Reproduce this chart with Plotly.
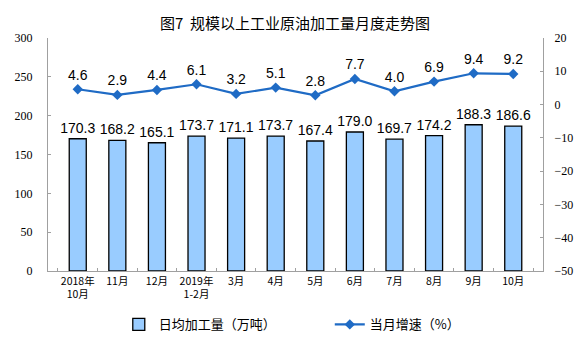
import plotly.graph_objects as go

categories = ["2018年<br>10月", "11月", "12月", "2019年<br>1-2月", "3月", "4月",
              "5月", "6月", "7月", "8月", "9月", "10月"]
daily_output = [170.3, 168.2, 165.1, 173.7, 171.1, 173.7, 167.4, 179.0, 169.7, 174.2, 188.3, 186.6]
growth = [4.6, 2.9, 4.4, 6.1, 3.2, 5.1, 2.8, 7.7, 4.0, 6.9, 9.4, 9.2]
left_ticks = [0, 50, 100, 150, 200, 250, 300]
right_ticks = [-50, -40, -30, -20, -10, 0, 10, 20]

num_font = "Liberation Sans"
cjk_font = "Noto Sans CJK SC"
serif_font = "Liberation Serif, serif"

fig = go.Figure()
fig.add_trace(go.Bar(
    x=categories, y=daily_output, name="日均加工量（万吨）",
    marker=dict(color="#99CCFF", line=dict(color="#000000", width=1.3)),
    width=0.43,
    text=[f"{v:.1f}" for v in daily_output], textposition="outside",
    constraintext="none",
    textfont=dict(family=num_font, size=14, color="#000000"),
    cliponaxis=False,
))
fig.add_trace(go.Scatter(
    x=categories, y=growth, name="当月增速（%）", yaxis="y2",
    mode="lines+markers+text",
    line=dict(color="#1F6BC5", width=2.2),
    marker=dict(symbol="diamond", size=8, color="#1F6BC5"),
    text=[f"{v:.1f}" for v in growth], textposition="top center",
    textfont=dict(family=num_font, size=14, color="#000000"),
    cliponaxis=False,
))

fig.update_layout(
    width=584, height=342,
    margin=dict(l=48, r=41, t=38, b=71, autoexpand=False),
    paper_bgcolor="white", plot_bgcolor="white",
    title=dict(text="图7  规模以上工业原油加工量月度走势图",
               x=0.505, xanchor="center", y=0.93, yanchor="middle",
               font=dict(family=cjk_font, size=15, color="#000000")),
    showlegend=True,
    legend=dict(orientation="h", x=0.143, xanchor="left", y=-0.165, yanchor="top",
                font=dict(family=cjk_font, size=13, color="#000000"),
                entrywidth=166, itemwidth=30, traceorder="normal"),
    bargap=0.57,
    xaxis=dict(
        showline=True, linecolor="#A0A0A0", linewidth=1,
        ticks="inside", tickson="boundaries", ticklen=3, tickcolor="#A0A0A0",
        tickfont=dict(family=cjk_font, size=10.5, color="#000000"),
        tickangle=0, automargin=False,
        showgrid=False,
    ),
    yaxis=dict(
        range=[0, 300], tickvals=left_ticks,
        showline=True, linecolor="#A0A0A0", linewidth=1,
        ticks="inside", ticklen=3, tickcolor="#A0A0A0",
        tickfont=dict(family=serif_font, size=12, color="#000000"),
        showgrid=False, zeroline=False, ticklabelstandoff=12, automargin=False,
    ),
    yaxis2=dict(
        range=[-50, 20], tickvals=right_ticks, overlaying="y", side="right",
        showline=True, linecolor="#A0A0A0", linewidth=1,
        ticks="inside", ticklen=3, tickcolor="#A0A0A0",
        tickfont=dict(family=serif_font, size=12, color="#000000"),
        showgrid=False, zeroline=False, ticklabelstandoff=8, automargin=False,
    ),
)

fig.write_html("out.html")
